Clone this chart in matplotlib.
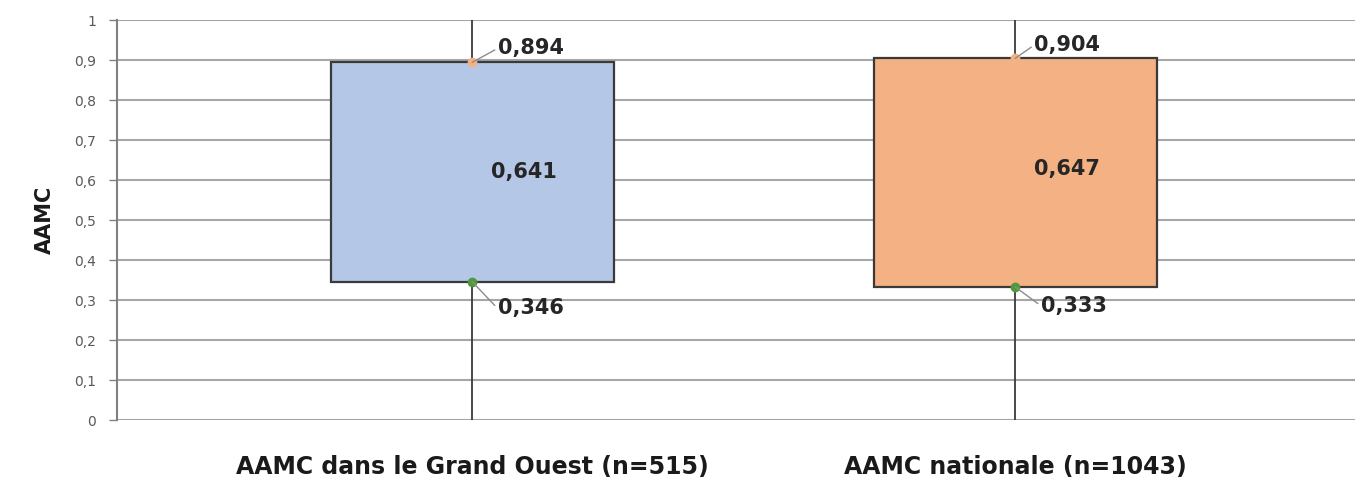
import matplotlib
matplotlib.use("Agg")
import matplotlib.pyplot as plt

plt.rcParams['font.family'] = ['DejaVu Sans']

categories = ["AAMC dans le Grand Ouest (n=515)", "AAMC nationale (n=1043)"]
minimum = [0.0, 0.0]
q1 = [0.346, 0.333]
median = [0.641, 0.647]
q3 = [0.894, 0.904]
maximum = [1.0, 1.0]
box_colors = ["#B4C7E7", "#F4B183"]
y_ticks = [0, 0.1, 0.2, 0.3, 0.4, 0.5, 0.6, 0.7, 0.8, 0.9, 1.0]


def fr(v):
    return f"{v:.3f}".replace(".", ",")


def fr_tick(v):
    return f"{v:g}".replace(".", ",")


fig = plt.figure(figsize=(13.55, 4.8), dpi=100)
ax = fig.add_axes([0.0863, 0.125, 0.9137, 0.8333])

positions = list(range(len(categories)))
box_w = 0.521
# label offsets (data units) for the upper and lower quartile annotations
upper_off = [(0.047, 0.035), (0.035, 0.033)]
lower_off = [(0.047, -0.067), (0.047, -0.047)]

for i, (x, lo, a, m, b, hi, col) in enumerate(
        zip(positions, minimum, q1, median, q3, maximum, box_colors)):
    ax.add_patch(plt.Rectangle((x - box_w / 2, a), box_w, b - a,
                               facecolor=col, edgecolor="#3A3A3A", lw=1.6, zorder=3))
    # whiskers from min to lower quartile and upper quartile to max
    ax.plot([x, x], [b, hi], color="#3A3A3A", lw=1.3, zorder=4)
    ax.plot([x, x], [lo, a], color="#3A3A3A", lw=1.3, zorder=4)
    # quartile markers
    ax.plot(x, b, marker="o", ms=6, color="#F4B183", mec="#F4B183", zorder=5)
    ax.plot(x, a, marker="o", ms=6, color="#4E9A3A", mec="#4E9A3A", zorder=5)
    # value labels
    dx, dy = upper_off[i]
    ax.annotate(fr(b), xy=(x, b), xytext=(x + dx, b + dy),
                fontsize=15, fontweight="bold", color="#262626",
                ha="left", va="center",
                arrowprops=dict(arrowstyle="-", color="#8C8C8C", lw=1,
                                shrinkA=0, shrinkB=0, relpos=(0, 0.5)),
                zorder=6)
    dx, dy = lower_off[i]
    ax.annotate(fr(a), xy=(x, a), xytext=(x + dx, a + dy),
                fontsize=15, fontweight="bold", color="#262626",
                ha="left", va="center",
                arrowprops=dict(arrowstyle="-", color="#8C8C8C", lw=1,
                                shrinkA=0, shrinkB=0, relpos=(0, 0.5)),
                zorder=6)
    ax.text(x + 0.095, m - 0.02, fr(m), fontsize=15, fontweight="bold",
            color="#262626", ha="center", va="center", zorder=6)

ax.set_xlim(-0.654, 1.626)
ax.set_ylim(0, 1)
ax.set_yticks(y_ticks)
ax.set_yticklabels([fr_tick(v) for v in y_ticks], fontsize=10, color="#595959")
ax.set_xticks(positions)
ax.set_xticklabels(categories, fontsize=17, fontweight="bold", color="#1a1a1a")
ax.tick_params(axis="x", length=0, pad=25)
ax.tick_params(axis="y", length=6, width=1, color="#808080", pad=9)

ax.set_ylabel("AAMC", fontsize=15, fontweight="bold", color="#1a1a1a", labelpad=14)

ax.grid(axis="y", color="#A6A6A6", lw=1.5, zorder=0)
ax.set_axisbelow(True)
for s in ["top", "right", "bottom"]:
    ax.spines[s].set_visible(False)
ax.spines["left"].set_color("#808080")
ax.spines["left"].set_linewidth(1.5)

fig.savefig("out.png", dpi=100)
